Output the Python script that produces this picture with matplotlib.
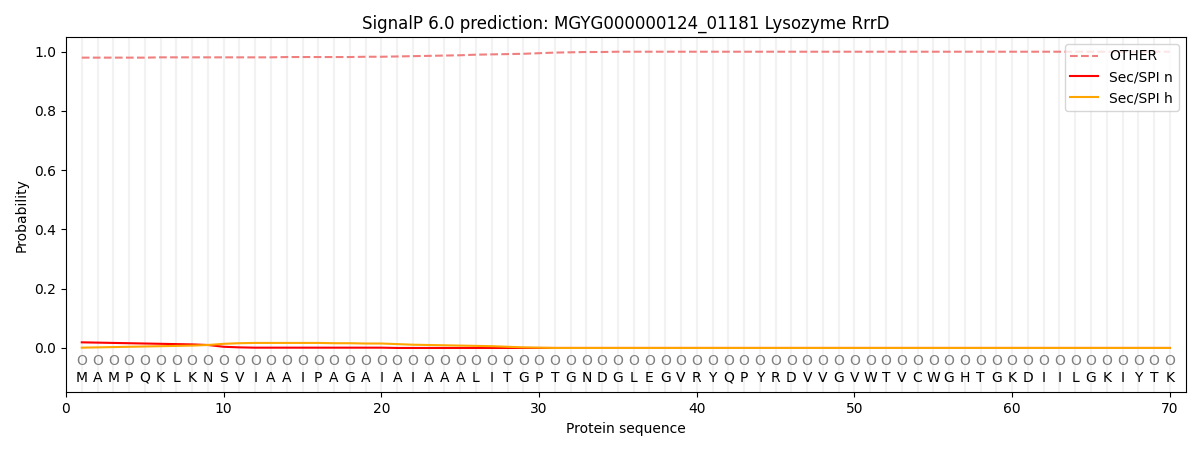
import matplotlib
matplotlib.use("Agg")
import matplotlib.pyplot as plt
import numpy as np

sequence = list("MAMPQKLKNSVIAAIPAGAIAIAAALITGPTGNDGLEGVRYQPYRDVVGVWTVCWGHTGKDIILGKIYTK")
positions = np.arange(1, len(sequence) + 1)

# probabilities, one value per residue
other = [0.980, 0.980, 0.980, 0.980, 0.980, 0.981, 0.981, 0.981, 0.981, 0.981,
         0.981, 0.981, 0.981, 0.982, 0.982, 0.982, 0.982, 0.982, 0.983, 0.983,
         0.984, 0.985, 0.986, 0.987, 0.988, 0.990, 0.991, 0.992, 0.993, 0.995,
         0.997, 0.998, 0.999, 0.999, 1.000, 1.000, 1.000, 1.000, 1.000, 1.000,
         1.000, 1.000, 1.000, 1.000, 1.000, 1.000, 1.000, 1.000, 1.000, 1.000,
         1.000, 1.000, 1.000, 1.000, 1.000, 1.000, 1.000, 1.000, 1.000, 1.000,
         1.000, 1.000, 1.000, 1.000, 1.000, 1.000, 1.000, 1.000, 1.000, 1.000]
sec_n = [0.019, 0.018, 0.017, 0.016, 0.015, 0.014, 0.013, 0.012, 0.010, 0.004,
         0.002, 0.001, 0.001, 0.001, 0.001, 0.001, 0.001, 0.001, 0.001, 0.001,
         0.000, 0.000, 0.000, 0.000, 0.000, 0.000, 0.000, 0.000, 0.000, 0.000] + [0.0] * 40
sec_h = [0.001, 0.002, 0.003, 0.004, 0.005, 0.006, 0.007, 0.008, 0.010, 0.014,
         0.016, 0.017, 0.017, 0.017, 0.017, 0.017, 0.016, 0.016, 0.015, 0.015,
         0.013, 0.011, 0.010, 0.009, 0.008, 0.007, 0.006, 0.004, 0.002, 0.001] + [0.0] * 40

fig, ax = plt.subplots(figsize=(12, 4.5), dpi=100)

for p in positions:
    ax.axvline(p, color="#f2f2f2", linewidth=1.5, zorder=0)

ax.plot(positions, other, color="lightcoral", linestyle="--", linewidth=1.5, label="OTHER")
ax.plot(positions, sec_n, color="red", linewidth=1.5, label="Sec/SPI n")
ax.plot(positions, sec_h, color="orange", linewidth=1.5, label="Sec/SPI h")

for p, aa in zip(positions, sequence):
    ax.text(p, -0.045, "O", ha="center", va="center", fontsize=10, color="grey")
    ax.text(p, -0.1, aa, ha="center", va="center", fontsize=10)

ax.set_xlim(0, 71)
ax.set_ylim(-0.15, 1.05)
ax.set_yticks([0.0, 0.2, 0.4, 0.6, 0.8, 1.0])
ax.set_xlabel("Protein sequence")
ax.set_ylabel("Probability")
ax.set_title("SignalP 6.0 prediction: MGYG000000124_01181 Lysozyme RrrD")
ax.legend(loc="upper right")

plt.subplots_adjust(left=0.055, right=0.988, top=0.918, bottom=0.128)
plt.savefig("out.png")
